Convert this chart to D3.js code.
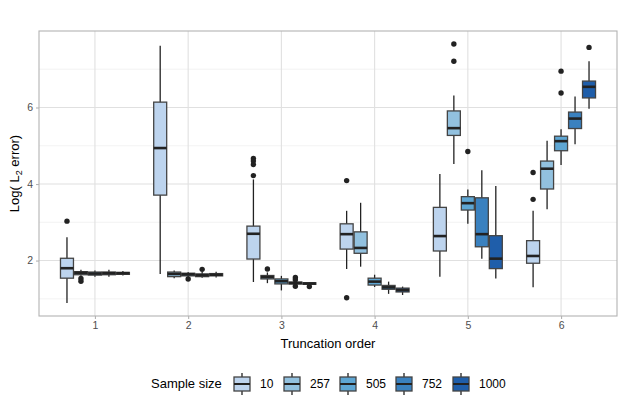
<!DOCTYPE html>
<html>
<head>
<meta charset="utf-8">
<script src="https://cdn.jsdelivr.net/npm/d3@7"></script>
<style>
  body { margin: 0; background: #fff; }
  text { font-family: "Liberation Sans", Arial, sans-serif; }
</style>
</head>
<body>
<script>
"use strict";

var width = 625;
var height = 410;
var margin = { top: 31, right: 8, bottom: 94, left: 39 };

var orders = ["1", "2", "3", "4", "5", "6"];
var sampleSizes = ["10", "257", "505", "752", "1000"];
var fillColors = ["#bdd4ee", "#92c1df", "#5ea6d3", "#3a81bf", "#1f5eaa"];
var yTicks = [2, 4, 6];
var yMinor = [1, 3, 5, 7];

// [lower whisker, q1, median, q3, upper whisker] for each truncation order
var stats10 = [
  [0.89, 1.54, 1.80, 2.06, 2.61],
  [1.65, 3.71, 4.94, 6.14, 7.61],
  [1.44, 2.04, 2.70, 2.90, 4.12],
  [1.78, 2.30, 2.69, 2.96, 3.30],
  [1.58, 2.25, 2.64, 3.39, 4.26],
  [1.30, 1.93, 2.12, 2.52, 3.30]
];
var stats257 = [
  [1.60, 1.63, 1.68, 1.71, 1.76],
  [1.54, 1.58, 1.65, 1.70, 1.74],
  [1.41, 1.52, 1.57, 1.61, 1.69],
  [1.84, 2.19, 2.33, 2.75, 3.51],
  [4.52, 5.27, 5.46, 5.91, 6.31],
  [3.34, 3.87, 4.40, 4.60, 5.13]
];
var stats505 = [
  [1.58, 1.62, 1.66, 1.70, 1.74],
  [1.57, 1.60, 1.64, 1.67, 1.70],
  [1.22, 1.39, 1.46, 1.52, 1.60],
  [1.31, 1.36, 1.45, 1.54, 1.63],
  [2.96, 3.32, 3.50, 3.67, 3.86],
  [4.50, 4.87, 5.12, 5.25, 5.43]
];
var stats752 = [
  [1.58, 1.63, 1.67, 1.70, 1.76],
  [1.55, 1.58, 1.62, 1.65, 1.70],
  [1.36, 1.39, 1.41, 1.44, 1.48],
  [1.13, 1.25, 1.30, 1.35, 1.45],
  [2.05, 2.36, 2.69, 3.64, 4.36],
  [5.04, 5.45, 5.71, 5.88, 6.29]
];
var stats1000 = [
  [1.61, 1.64, 1.67, 1.69, 1.73],
  [1.56, 1.60, 1.63, 1.66, 1.71],
  [1.36, 1.38, 1.40, 1.42, 1.44],
  [1.10, 1.18, 1.23, 1.28, 1.32],
  [1.53, 1.79, 2.05, 2.65, 3.95],
  [5.97, 6.25, 6.54, 6.69, 7.21]
];

var outliers10 = [[3.03], [], [4.67, 4.60, 4.51, 4.22], [4.09, 1.03], [], [4.30, 3.60]];
var outliers257 = [[1.53, 1.46], [], [1.78], [], [7.66, 7.21], []];
var outliers505 = [[], [1.52], [], [], [4.85], [6.95, 6.38]];
var outliers752 = [[], [1.77], [1.56, 1.50, 1.33], [], [], []];
var outliers1000 = [[], [], [1.32], [], [], [7.57]];

var allStats = [stats10, stats257, stats505, stats752, stats1000];
var allOutliers = [outliers10, outliers257, outliers505, outliers752, outliers1000];

var boxes = [];
sampleSizes.forEach(function (s, si) {
  orders.forEach(function (o, oi) {
    var st = allStats[si][oi];
    boxes.push({
      order: o, size: s, colorIndex: si,
      lo: st[0], q1: st[1], med: st[2], q3: st[3], hi: st[4],
      out: allOutliers[si][oi]
    });
  });
});

var svg = d3.select("body").append("svg")
  .attr("width", width)
  .attr("height", height);

var x0 = margin.left, x1 = width - margin.right;
var yTop = margin.top, yBot = height - margin.bottom;

var x = d3.scalePoint().domain(orders).range([x0, x1]).padding(0.6);
var step = x.step();
var xInner = d3.scaleBand().domain(sampleSizes)
  .range([-0.375 * step, 0.375 * step]).padding(0);

var lo = d3.min(boxes, function (b) { return d3.min([b.lo].concat(b.out)); });
var hi = d3.max(boxes, function (b) { return d3.max([b.hi].concat(b.out)); });
var pad = (hi - lo) * 0.05;
var y = d3.scaleLinear().domain([lo - pad, hi + pad]).range([yBot, yTop]);

var color = d3.scaleOrdinal().domain(sampleSizes).range(fillColors);

// grid
var grid = svg.append("g");
grid.selectAll(".minor").data(yMinor).enter().append("line")
  .attr("x1", x0).attr("x2", x1)
  .attr("y1", function (d) { return y(d); })
  .attr("y2", function (d) { return y(d); })
  .attr("stroke", "#ebebeb").attr("stroke-width", 0.6);
grid.selectAll(".major").data(yTicks).enter().append("line")
  .attr("x1", x0).attr("x2", x1)
  .attr("y1", function (d) { return y(d); })
  .attr("y2", function (d) { return y(d); })
  .attr("stroke", "#e0e0e0").attr("stroke-width", 1.1);
grid.selectAll(".vmajor").data(orders).enter().append("line")
  .attr("x1", function (d) { return x(d); })
  .attr("x2", function (d) { return x(d); })
  .attr("y1", yTop).attr("y2", yBot)
  .attr("stroke", "#e0e0e0").attr("stroke-width", 1.1);

// boxplots
var bw = xInner.bandwidth();
var g = svg.append("g").selectAll("g").data(boxes).enter().append("g")
  .attr("transform", function (d) {
    return "translate(" + (x(d.order) + xInner(d.size)) + ",0)";
  });

g.append("line")
  .attr("x1", bw / 2).attr("x2", bw / 2)
  .attr("y1", function (d) { return y(d.hi); })
  .attr("y2", function (d) { return y(d.lo); })
  .attr("stroke", "#222").attr("stroke-width", 1.3);

g.append("rect")
  .attr("x", 0.5).attr("width", bw - 1)
  .attr("y", function (d) { return y(d.q3); })
  .attr("height", function (d) { return y(d.q1) - y(d.q3); })
  .attr("fill", function (d) { return color(d.size); })
  .attr("stroke", "#444").attr("stroke-width", 1.3);

g.append("line")
  .attr("x1", 0.5).attr("x2", bw - 0.5)
  .attr("y1", function (d) { return y(d.med); })
  .attr("y2", function (d) { return y(d.med); })
  .attr("stroke", "#222").attr("stroke-width", 2.6);

g.selectAll("circle").data(function (d) { return d.out; }).enter()
  .append("circle")
  .attr("cx", bw / 2)
  .attr("cy", function (d) { return y(d); })
  .attr("r", 2.7)
  .attr("fill", "#222");

// panel border
svg.append("rect")
  .attr("x", x0).attr("y", yTop)
  .attr("width", x1 - x0).attr("height", yBot - yTop)
  .attr("fill", "none").attr("stroke", "#b3b3b3").attr("stroke-width", 1.1);

// axes
var yAxis = svg.append("g")
  .attr("transform", "translate(" + x0 + ",0)")
  .call(d3.axisLeft(y).tickValues(yTicks).tickSize(3).tickPadding(3));
var xAxis = svg.append("g")
  .attr("transform", "translate(0," + yBot + ")")
  .call(d3.axisBottom(x).tickSize(3).tickPadding(3));
[yAxis, xAxis].forEach(function (a) {
  a.select(".domain").remove();
  a.selectAll(".tick line").attr("stroke", "#b3b3b3").attr("stroke-width", 1.1);
  a.selectAll(".tick text")
    .attr("fill", "#4d4d4d")
    .style("font-size", "10.5px")
    .style("font-family", "'Liberation Sans', Arial, sans-serif");
});

svg.append("text")
  .attr("x", (x0 + x1) / 2)
  .attr("y", 348)
  .attr("text-anchor", "middle")
  .style("font-size", "13px")
  .text("Truncation order");

var yt = svg.append("text")
  .attr("transform", "translate(19," + ((yTop + yBot) / 2) + ") rotate(-90)")
  .attr("text-anchor", "middle")
  .style("font-size", "13px");
yt.append("tspan").text("Log( L");
yt.append("tspan").attr("font-size", "9px").attr("dy", 3).text("2");
yt.append("tspan").attr("dy", -3).text(" error)");

// legend
var legend = svg.append("g");
legend.append("text")
  .attr("x", 151).attr("y", 388)
  .style("font-size", "13px")
  .text("Sample size");

var keyX = [234, 284, 340, 396, 453];
var keys = legend.selectAll(".key").data(sampleSizes).enter().append("g")
  .attr("transform", function (d, i) { return "translate(" + keyX[i] + ",0)"; });
keys.append("line")
  .attr("x1", 8).attr("x2", 8).attr("y1", 373).attr("y2", 395)
  .attr("stroke", "#222").attr("stroke-width", 1.3);
keys.append("rect")
  .attr("x", 0).attr("y", 377).attr("width", 16).attr("height", 14)
  .attr("fill", function (d) { return color(d); })
  .attr("stroke", "#444").attr("stroke-width", 1.3);
keys.append("line")
  .attr("x1", 0).attr("x2", 16).attr("y1", 384).attr("y2", 384)
  .attr("stroke", "#222").attr("stroke-width", 2);
keys.append("text")
  .attr("x", 26).attr("y", 388)
  .style("font-size", "12px")
  .text(function (d) { return d; });
</script>
</body>
</html>
